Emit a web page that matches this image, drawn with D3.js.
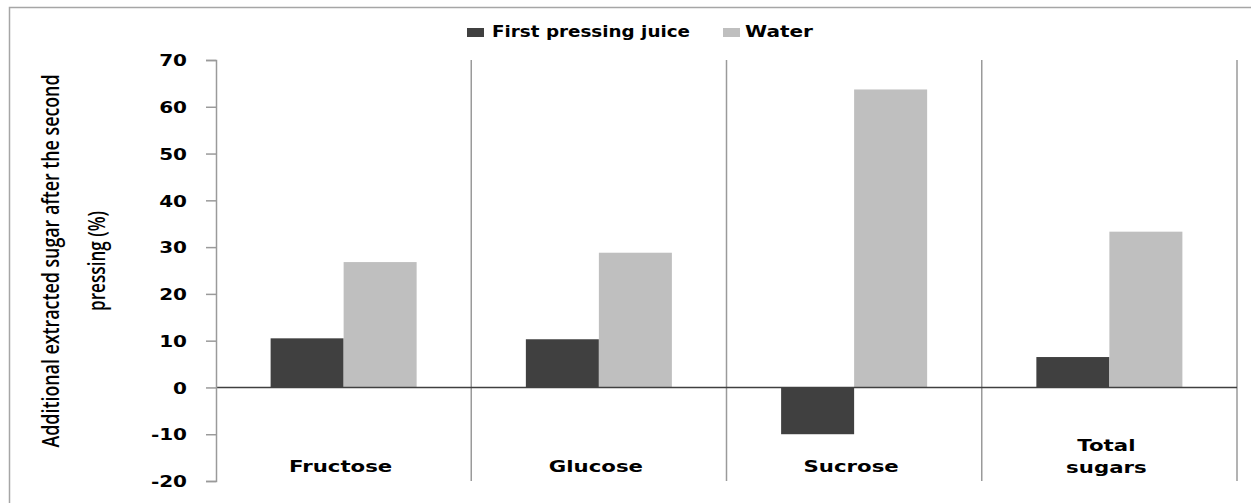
<!DOCTYPE html>
<html><head><meta charset="utf-8">
<script src="https://cdn.jsdelivr.net/npm/d3@7"></script>
<style>html,body{margin:0;padding:0;background:#fff;}svg{display:block;}</style>
</head><body>
<script>
const categories = ["Fructose", "Glucose", "Sucrose", "Total sugars"];
const categoryLines = [["Fructose"], ["Glucose"], ["Sucrose"], ["Total", "sugars"]];
const seriesNames = ["First pressing juice", "Water"];
const firstPressingJuice = [10.5, 10.3, -10.0, 6.5];
const water = [26.8, 28.8, 63.7, 33.3];
const yTicks = [-20, -10, 0, 10, 20, 30, 40, 50, 60, 70];
const yTitleLines = ["Additional extracted sugar after the second", "pressing (%)"];
const colors = ["#404040", "#bfbfbf"];

(function () {
const W = 1251, H = 503;
const svg = d3.select("body").append("svg").attr("width", W).attr("height", H);

// outer border
svg.append("rect").attr("x", 9.5).attr("y", 7.5).attr("width", 1300).attr("height", 600)
  .attr("fill", "none").attr("stroke", "#a6a6a6").attr("stroke-width", 1.5);

const pL = 216, pR = 1237, pT = 60, pB = 481;
const x = d3.scaleBand().domain(categories).range([pL, pR]).paddingInner(0).paddingOuter(0);
const xs = d3.scaleBand().domain(seriesNames).range([0, x.bandwidth()]).paddingInner(0).paddingOuter(0.748);
const y = d3.scaleLinear().domain([-20, 70]).range([pB, pT]);

const SX = 1.33;

// separators
svg.append("g").selectAll("line").data(categories.slice(1).concat(["__end"])).join("line")
  .attr("x1", d => d === "__end" ? pR : x(d)).attr("x2", d => d === "__end" ? pR : x(d))
  .attr("y1", pT).attr("y2", pB)
  .attr("stroke", "#9a9a9a").attr("stroke-width", 1.5);

// bars
const data = [];
categories.forEach((c, i) => {
  data.push({c, s: seriesNames[0], v: firstPressingJuice[i], col: colors[0]});
  data.push({c, s: seriesNames[1], v: water[i], col: colors[1]});
});
svg.append("g").selectAll("rect").data(data).join("rect")
  .attr("x", d => x(d.c) + xs(d.s))
  .attr("width", xs.bandwidth())
  .attr("y", d => y(Math.max(0, d.v)))
  .attr("height", d => Math.abs(y(d.v) - y(0)))
  .attr("fill", d => d.col);

// zero line
svg.append("line").attr("x1", pL).attr("x2", pR).attr("y1", y(0)).attr("y2", y(0))
  .attr("stroke", "#404040").attr("stroke-width", 1.5);

// y axis
const ax = svg.append("g").attr("transform", `translate(${pL},0)`)
  .call(d3.axisLeft(y).tickValues(yTicks).tickSize(10).tickSizeOuter(10).tickFormat(d => String(d)));
ax.select(".domain").attr("stroke", "#9a9a9a").attr("stroke-width", 1.5);
ax.selectAll(".tick line").attr("stroke", "#9a9a9a").attr("stroke-width", 1.5);
ax.selectAll(".tick text")
  .attr("font-family", "DejaVu Sans").attr("font-weight", "bold").attr("font-size", 16)
  .attr("fill", "#000")
  .attr("x", -29 / 1.25).attr("dy", "0.36em")
  .attr("transform", "scale(1.25,1)");

// category labels
categories.forEach((c, i) => {
  const lines = categoryLines[i];
  const cx = x(c) + x.bandwidth() / 2 - 3;
  const baselines = lines.length === 1 ? [471.5] : [451, 473];
  lines.forEach((ln, j) => {
    svg.append("text")
      .attr("transform", `translate(${cx},${baselines[j]}) scale(${SX},1)`)
      .attr("text-anchor", "middle")
      .attr("font-family", "DejaVu Sans").attr("font-weight", "bold").attr("font-size", 16)
      .attr("fill", "#000").text(ln);
  });
});

// y title
const titleX = [59, 105];
const titleLen = [373, 100];
yTitleLines.forEach((t, i) => {
  svg.append("text")
    .attr("transform", `translate(${titleX[i]},261) scale(1.4,1) rotate(-90)`)
    .attr("text-anchor", "middle")
    .attr("font-family", "Open Sans").attr("font-weight", 600).attr("font-size", 17)
    .attr("textLength", titleLen[i]).attr("lengthAdjust", "spacingAndGlyphs")
    .attr("fill", "#000").text(t);
});

// legend
const legendItems = [
  {name: seriesNames[0], col: colors[0], sx: 467, tx: 492, tw: 198},
  {name: seriesNames[1], col: colors[1], sx: 723, tx: 745, tw: 68}
];
legendItems.forEach(it => {
  svg.append("rect").attr("x", it.sx).attr("y", 28).attr("width", 17).attr("height", 9).attr("fill", it.col);
  svg.append("text").attr("x", it.tx).attr("y", 36.5)
    .attr("font-family", "DejaVu Sans").attr("font-weight", "bold").attr("font-size", 15)
    .attr("textLength", it.tw).attr("lengthAdjust", "spacingAndGlyphs")
    .attr("fill", "#000").text(it.name);
});
})();
</script>
</body></html>
